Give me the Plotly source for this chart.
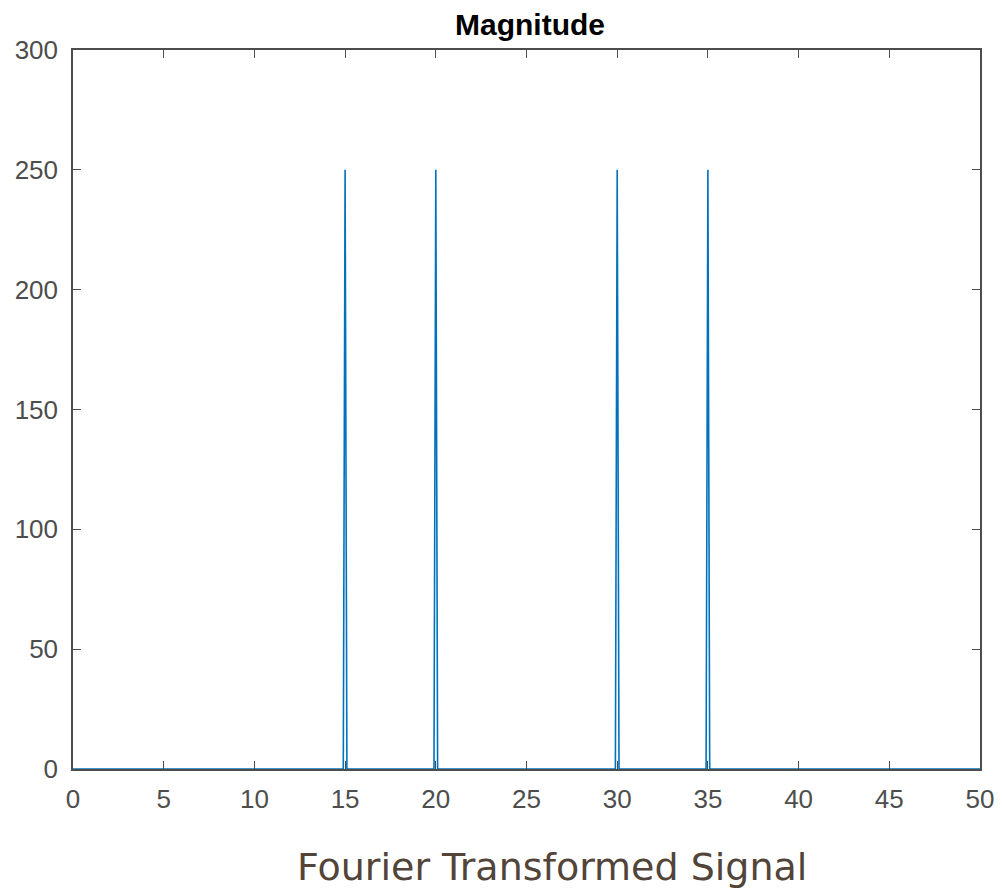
import plotly.graph_objects as go

# Frequency (Hz) and magnitude samples
freq = [0, 14.9, 15.0, 15.1, 19.9, 20.0, 20.1, 29.9, 30.0, 30.1, 34.9, 35.0, 35.1, 50]
magnitude = [0, 0, 250, 0, 0, 250, 0, 0, 250, 0, 0, 250, 0, 0]

x_ticks = [0, 5, 10, 15, 20, 25, 30, 35, 40, 45, 50]
y_ticks = [0, 50, 100, 150, 200, 250, 300]

fig = go.Figure()
fig.add_trace(go.Scatter(x=freq, y=magnitude, mode="lines",
                         line=dict(color="#0072BD", width=1.6), showlegend=False))

axis_common = dict(showline=True, linecolor="#4d4d4d", linewidth=1.5, mirror="ticks",
                   ticks="inside", ticklen=8, tickwidth=1.2, tickcolor="#4d4d4d",
                   showgrid=False, zeroline=False, automargin=False,
                   tickfont=dict(family="Liberation Sans, Arial", size=26, color="#4d4d4d"))

fig.update_xaxes(range=[0, 50], tickvals=x_ticks, ticklabelstandoff=6, **axis_common)
fig.update_yaxes(range=[0, 300], tickvals=y_ticks, ticklabelstandoff=8, **axis_common)

fig.update_layout(
    width=1002, height=889,
    margin=dict(l=73, r=22, t=50, b=120),
    plot_bgcolor="white", paper_bgcolor="white",
    title=dict(text="<b>Magnitude</b>", x=530 / 1002, xanchor="center", y=1 - 24 / 889, yanchor="middle",
               font=dict(family="Liberation Sans, Arial", size=30, color="black")),
    annotations=[dict(text="Fourier Transformed Signal", xref="paper", yref="paper",
                      x=0.5276, y=-0.136, xanchor="center", yanchor="middle", showarrow=False,
                      font=dict(family="DejaVu Sans", size=38, color="#524439"))],
)

fig.write_html("out.html")
